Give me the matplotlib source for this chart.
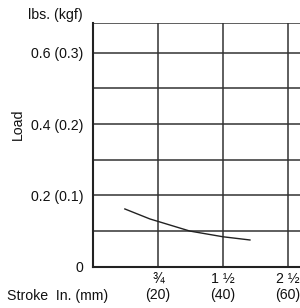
import matplotlib.pyplot as plt

# stroke in mm, load in lbs
stroke_mm = [9.8, 17.5, 29.8, 40.0, 48.3]
load_lbs = [0.162, 0.134, 0.100, 0.084, 0.075]

x_ticks = [20, 40, 60]
x_labels = ["\u00be\n(20)", "1 \u00bd\n(40)", "2 \u00bd\n(60)"]
y_ticks = [0, 0.2, 0.4, 0.6]
y_labels = ["0", "0.2 (0.1)", "0.4 (0.2)", "0.6 (0.3)"]
y_grid = [0.1, 0.3, 0.5, 0.684]


def main():
    plt.rcParams["font.family"] = ["Liberation Sans", "DejaVu Sans"]
    plt.rcParams["font.size"] = 10.2

    fig = plt.figure(figsize=(3.0, 3.08), dpi=100)
    ax = fig.add_axes([0.31, 0.134, 0.69, 0.792])

    line_col = "#333333"
    for y in y_ticks[1:] + y_grid:
        ax.axhline(y, color=line_col, lw=1.1, zorder=1)
    for x in x_ticks:
        ax.axvline(x, color=line_col, lw=1.1, zorder=1)

    ax.plot(stroke_mm, load_lbs, color="#222222", lw=1.0, zorder=3)

    ax.set_xlim(0, 63.7)
    ax.set_ylim(0, 0.684)
    ax.set_xticks(x_ticks)
    ax.set_xticklabels(x_labels, linespacing=1.2)
    ax.set_yticks(y_ticks)
    ax.set_yticklabels(y_labels)
    ax.tick_params(length=0, colors="#111111")
    ax.tick_params(axis="y", pad=7)
    ax.tick_params(axis="x", pad=4)

    for side in ["top", "right"]:
        ax.spines[side].set_visible(False)
    for side in ["left", "bottom"]:
        ax.spines[side].set_color("#222222")
        ax.spines[side].set_linewidth(1.5)

    fig.text(83 / 300, 1 - 15 / 308, "lbs. (kgf)", ha="right", va="center",
             color="#111111")
    fig.text(18 / 300, 1 - 124 / 308, "Load", rotation=90, ha="center",
             va="center", color="#111111")
    fig.text(7 / 300, 12 / 308, "Stroke  In. (mm)", ha="left", va="center",
             color="#111111")

    fig.savefig("out.png", dpi=100)
    plt.close(fig)


if __name__ == "__main__":
    main()
